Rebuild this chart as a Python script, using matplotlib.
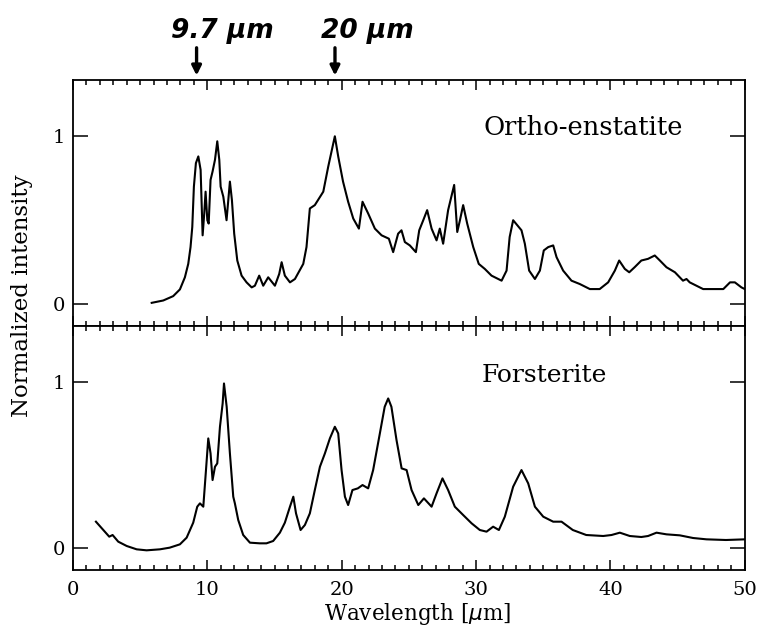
import matplotlib
matplotlib.use("Agg")
import matplotlib.pyplot as plt
from matplotlib.ticker import MultipleLocator, FixedLocator

# Ortho-enstatite spectrum (wavelength in micron, normalized intensity)
enst_wl = [5.86, 6.72, 7.46, 7.96, 8.33, 8.58, 8.75, 8.88, 9.0, 9.15, 9.33, 9.5,
           9.65, 9.77, 9.87, 10.0, 10.1, 10.24, 10.39, 10.57, 10.74, 10.89, 10.99,
           11.19, 11.43, 11.68, 11.83, 12.0, 12.23, 12.55, 12.92, 13.3, 13.54, 13.86,
           14.16, 14.53, 15.03, 15.35, 15.53, 15.77, 16.15, 16.52, 17.14, 17.38,
           17.63, 18.0, 18.63, 19.0, 19.49, 19.74, 20.1, 20.48, 20.86, 21.28, 21.55,
           21.97, 22.47, 22.97, 23.51, 23.83, 24.2, 24.45, 24.7, 25.07, 25.52, 25.77,
           26.07, 26.36, 26.69, 27.06, 27.3, 27.55, 27.92, 28.37, 28.6, 28.8, 29.04,
           29.34, 29.79, 30.2, 30.65, 31.15, 31.9, 32.27, 32.5, 32.76, 33.38, 33.63,
           33.95, 34.38, 34.75, 35.04, 35.37, 35.74, 35.99, 36.48, 37.1, 37.72, 38.47,
           39.2, 39.83, 40.33, 40.65, 41.07, 41.4, 41.8, 42.3, 42.8, 43.3, 43.68,
           44.17, 44.8, 45.4, 45.66, 45.9, 46.4, 46.9, 47.5, 48.4, 48.9, 49.26, 49.75,
           50.0]
enst_int = [0.008, 0.022, 0.048, 0.088, 0.16, 0.24, 0.34, 0.46, 0.70, 0.84, 0.88, 0.80,
            0.41, 0.54, 0.67, 0.50, 0.48, 0.74, 0.79, 0.86, 0.97, 0.86, 0.70,
            0.64, 0.50, 0.73, 0.62, 0.42, 0.26, 0.17, 0.13, 0.10, 0.11, 0.17,
            0.11, 0.16, 0.11, 0.18, 0.25, 0.17, 0.13, 0.15, 0.24, 0.34,
            0.57, 0.59, 0.67, 0.82, 1.0, 0.88, 0.73, 0.61, 0.51, 0.45, 0.61,
            0.54, 0.45, 0.41, 0.39, 0.31, 0.42, 0.44, 0.37, 0.35, 0.31, 0.44,
            0.50, 0.56, 0.45, 0.38, 0.45, 0.36, 0.56, 0.71, 0.43, 0.50, 0.59,
            0.48, 0.34, 0.24, 0.21, 0.17, 0.14, 0.20, 0.40, 0.50, 0.44, 0.36,
            0.20, 0.15, 0.20, 0.32, 0.34, 0.35, 0.28, 0.20, 0.14, 0.12, 0.09,
            0.09, 0.13, 0.20, 0.26, 0.21, 0.19, 0.22, 0.26, 0.27, 0.29, 0.26,
            0.22, 0.19, 0.14, 0.15, 0.13, 0.11, 0.09, 0.09, 0.09, 0.13, 0.13, 0.10,
            0.09]

# Forsterite spectrum
fors_wl = [1.71, 2.26, 2.7, 2.95, 3.37, 4.0, 4.74, 5.48, 6.47, 7.2, 7.96, 8.46, 8.95,
           9.25, 9.45, 9.7, 9.9, 10.07, 10.24, 10.39, 10.57, 10.74, 10.94, 11.14,
           11.24, 11.44, 11.68, 11.93, 12.05, 12.3, 12.67, 13.17, 13.9, 14.4, 14.9,
           15.4, 15.77, 16.15, 16.4, 16.6, 16.94, 17.26, 17.63, 18.0, 18.38, 18.75,
           19.12, 19.49, 19.74, 19.99, 20.24, 20.48, 20.8, 21.2, 21.55, 21.97, 22.34,
           22.84, 23.2, 23.46, 23.7, 24.08, 24.46, 24.83, 25.2, 25.7, 26.12, 26.69,
           27.06, 27.5, 27.92, 28.42, 29.04, 29.67, 30.28, 30.78, 31.27, 31.7, 32.14,
           32.76, 33.38, 33.88, 34.38, 35.0, 35.74, 36.36, 37.2, 38.2, 39.46, 40.08,
           40.7, 41.44, 42.3, 42.8, 43.43, 44.17, 45.16, 46.15, 47.15, 48.6, 50.0]
fors_int = [0.16, 0.11, 0.07, 0.08, 0.04, 0.014, -0.006, -0.012, -0.006, 0.004, 0.024,
            0.064, 0.154, 0.25, 0.27, 0.25, 0.47, 0.66, 0.57, 0.41, 0.49, 0.51, 0.73,
            0.87, 0.99, 0.85, 0.57, 0.31, 0.27, 0.17, 0.08, 0.034, 0.03, 0.03, 0.044,
            0.094, 0.154, 0.25, 0.31, 0.21, 0.11, 0.14, 0.21, 0.35, 0.49, 0.57,
            0.66, 0.73, 0.69, 0.47, 0.31, 0.26, 0.35, 0.36, 0.38, 0.36, 0.47,
            0.69, 0.85, 0.90, 0.85, 0.65, 0.48, 0.47, 0.35, 0.26, 0.30, 0.25,
            0.33, 0.42, 0.35, 0.25, 0.20, 0.15, 0.11, 0.10, 0.13, 0.11, 0.19,
            0.37, 0.47, 0.39, 0.25, 0.19, 0.16, 0.16, 0.11, 0.08, 0.074, 0.08,
            0.094, 0.074, 0.068, 0.074, 0.094, 0.084, 0.078, 0.062, 0.054, 0.05, 0.054]

panel_names = ["Ortho-enstatite", "Forsterite"]
y_ticks = [0, 1]
x_ticks = [0, 10, 20, 30, 40, 50]
marker_labels = ["9.7 \u03bcm", "20 \u03bcm"]
marker_wl = [9.2, 19.5]

serif = "DejaVu Serif"
fig = plt.figure(figsize=(7.6, 6.35), dpi=100)
left, right = 0.096, 0.980
bottom, mid, top = 0.1024, 0.4866, 0.874
ax_top = fig.add_axes([left, mid, right - left, top - mid])
ax_bot = fig.add_axes([left, bottom, right - left, mid - bottom], sharex=ax_top)

ylim = (-0.13, 1.335)
for ax, wl, inten, name, tx, ty, fs in [
        (ax_top, enst_wl, enst_int, panel_names[0], 38.0, 1.05, 18.5),
        (ax_bot, fors_wl, fors_int, panel_names[1], 35.1, 1.04, 18)]:
    ax.plot(wl, inten, color="black", lw=1.5)
    ax.set_xlim(0, 50)
    ax.set_ylim(*ylim)
    ax.xaxis.set_major_locator(FixedLocator(x_ticks))
    ax.xaxis.set_minor_locator(MultipleLocator(1))
    ax.yaxis.set_major_locator(FixedLocator(y_ticks))
    ax.tick_params(which="both", direction="in", top=True, right=True, width=1.1)
    ax.tick_params(axis="x", which="major", length=7, pad=8)
    ax.tick_params(axis="x", which="minor", length=3.5)
    ax.tick_params(axis="y", which="major", length=11, pad=6)
    for s in ax.spines.values():
        s.set_linewidth(1.3)
    ax.text(tx, ty, name, ha="center", va="center", fontsize=fs, family=serif)
    for lab in ax.get_yticklabels():
        lab.set_family(serif)
        lab.set_fontsize(14)

ax_top.tick_params(axis="x", labelbottom=False)
for lab in ax_bot.get_xticklabels():
    lab.set_family(serif)
    lab.set_fontsize(14)
ax_bot.set_xlabel("Wavelength [$\\mu$m]", family=serif, fontsize=15.5, labelpad=3)
ax_bot.xaxis.set_label_coords(0.513, -0.128)
fig.text(0.029, 0.535, "Normalized intensity", rotation=90, ha="center",
         va="center", family=serif, fontsize=16.5)

# Hand-written markers above the upper panel
for lab, wl, tx in zip(marker_labels, marker_wl, [0.292, 0.484]):
    ax_top.annotate("", xy=(wl, ylim[1] + 0.01), xytext=(0, 24),
                    textcoords="offset points", annotation_clip=False,
                    arrowprops=dict(arrowstyle="-|>", lw=2.4, color="black",
                                    mutation_scale=14))
    fig.text(tx, 0.951, lab, ha="center", va="center", fontsize=19,
             fontweight="bold", fontstyle="italic", family="DejaVu Sans")

fig.savefig("out.png", dpi=100)
